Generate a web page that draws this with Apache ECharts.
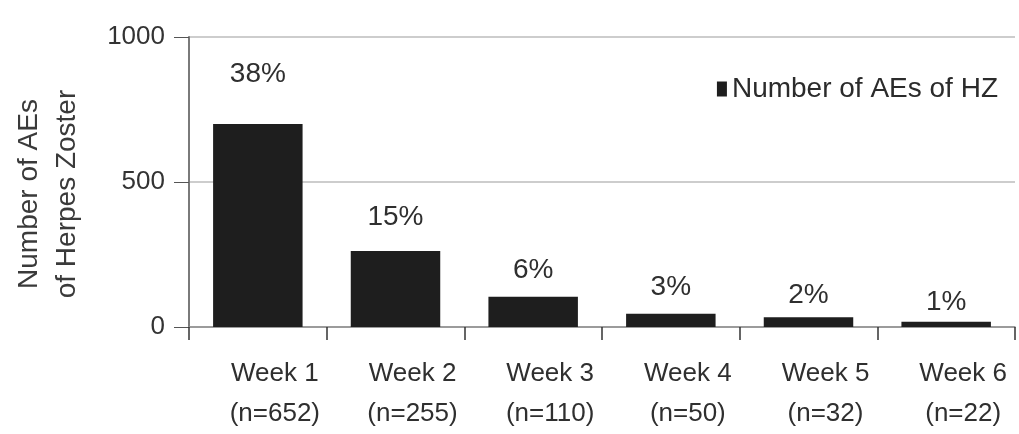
<!DOCTYPE html>
<html>
<head>
<meta charset="utf-8">
<script src="https://cdn.jsdelivr.net/npm/echarts@6/dist/echarts.min.js"></script>
<style>
html,body{margin:0;padding:0;background:#fff;}
#chart{width:1019px;height:434px;}
</style>
</head>
<body>
<div id="chart"></div>
<script>
const categories = ['Week 1\n(n=652)', 'Week 2\n(n=255)', 'Week 3\n(n=110)', 'Week 4\n(n=50)', 'Week 5\n(n=32)', 'Week 6\n(n=22)'];
const aeCounts = [700, 262, 104, 46, 34, 18];
const percentLabels = ['38%', '15%', '6%', '3%', '2%', '1%'];
const yTicks = [0, 500, 1000];
const seriesName = 'Number of AEs of HZ';

const FONT = 'Liberation Sans, Arial, sans-serif';
const labelGaps = [36, 20, 13, 12, 8, 5];

const chart = echarts.init(document.getElementById('chart'), null, {renderer: 'canvas'});
chart.setOption({
  animation: false,
  backgroundColor: '#fff',
  grid: {left: 189, right: 4, top: 37, bottom: 107, containLabel: false, outerBoundsMode: 'none'},
  legend: {
    data: [seriesName],
    right: 16, top: 70,
    icon: 'rect', itemWidth: 10, itemHeight: 15, itemGap: 6,
    textStyle: {fontFamily: FONT, fontSize: 28, color: '#2b2b2b'}
  },
  xAxis: {
    type: 'category',
    data: categories,
    axisLine: {lineStyle: {color: '#8a8a8a', width: 1.5}},
    axisTick: {show: true, length: 13, lineStyle: {color: '#333', width: 1.5}},
    axisLabel: {
      fontFamily: FONT, fontSize: 26, color: '#2f2f2f', lineHeight: 40,
      margin: 27, padding: [0, 0, 0, 34], interval: 0
    },
    splitLine: {show: false}
  },
  yAxis: {
    type: 'value',
    min: yTicks[0], max: yTicks[yTicks.length - 1], interval: yTicks[1] - yTicks[0],
    name: 'Number of AEs\nof Herpes Zoster',
    nameLocation: 'middle', nameRotate: 90, nameGap: 103,
    nameTextStyle: {fontFamily: FONT, fontSize: 28, color: '#3a3a3a', lineHeight: 38, padding: [0, 24, 0, 0]},
    axisLine: {show: true, lineStyle: {color: '#7a7a7a', width: 2}},
    axisTick: {show: true, inside: false, length: 15, lineStyle: {color: '#555', width: 1}},
    axisLabel: {
      fontFamily: FONT, fontSize: 26, color: '#333', margin: 24, padding: [0, 0, 10, 0],
      formatter: v => String(v)
    },
    splitLine: {show: true, lineStyle: {color: '#bdbdbd', width: 1.5}}
  },
  series: [{
    name: seriesName,
    type: 'bar',
    barWidth: '65%',
    itemStyle: {color: '#1e1e1e'},
    data: aeCounts.map((v, i) => ({value: v, label: {distance: labelGaps[i]}})),
    label: {
      show: true, position: 'top',
      fontFamily: FONT, fontSize: 28, color: '#2f2f2f',
      formatter: p => percentLabels[p.dataIndex]
    }
  }]
});
</script>
</body>
</html>
